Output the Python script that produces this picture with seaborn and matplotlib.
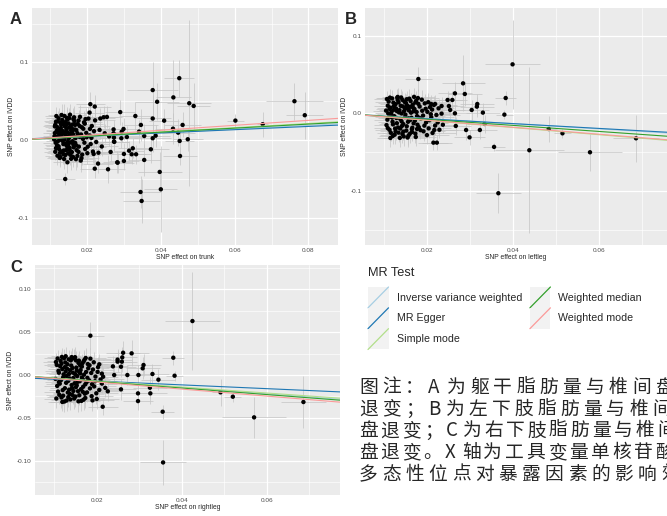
import numpy as np
import matplotlib
matplotlib.use('Agg')
import matplotlib.pyplot as plt
import seaborn as sns
from matplotlib.ticker import MultipleLocator, AutoMinorLocator, FormatStrFormatter
from matplotlib.legend_handler import HandlerBase
from matplotlib.patches import Rectangle
from matplotlib.lines import Line2D

sns.set_style("darkgrid", {"axes.facecolor": "#EBEBEB", "grid.color": "white"})
plt.rcParams['font.family'] = ['Liberation Sans', 'DejaVu Sans']
plt.rcParams['axes.unicode_minus'] = False

# MR methods
methods = ["Inverse variance weighted", "MR Egger", "Simple mode", "Weighted median", "Weighted mode"]
method_colors = ["#A6CEE3", "#1F78B4", "#B2DF8A", "#33A02C", "#FB9A99"]

# slope / intercept of each method line, per panel
trunk_slope = [0.24, 0.21, 0.27, 0.26, 0.32]
trunk_icpt = [0.0, 0.001, 0.0, 0.0, 0.0]
leftleg_slope = [-0.335, -0.31, -0.46, -0.39, -0.45]
leftleg_icpt = [0.0, -0.0009, 0.0, 0.0, 0.0]
rightleg_slope = [-0.365, -0.22, -0.35, -0.38, -0.41]
rightleg_icpt = [0.0, -0.0027, 0.0, 0.0, 0.0]

# SNPs: (beta exposure, beta outcome, x half-width, y half-width)
trunk_cluster = [
    (0.0112, 0.0052, 0.0032, 0.011), (0.0115, -0.0031, 0.0035, 0.010), (0.0118, 0.0124, 0.0030, 0.012),
    (0.0121, 0.0243, 0.0038, 0.013), (0.0113, 0.0178, 0.0031, 0.010), (0.0124, -0.0112, 0.0034, 0.012),
    (0.0127, 0.0015, 0.0036, 0.009), (0.0119, -0.0065, 0.0033, 0.011), (0.0130, 0.0201, 0.0040, 0.014),
    (0.0133, 0.0087, 0.0037, 0.010), (0.0136, -0.0178, 0.0035, 0.013), (0.0122, 0.0096, 0.0032, 0.011),
    (0.0139, 0.0312, 0.0041, 0.015), (0.0141, -0.0043, 0.0036, 0.010), (0.0144, 0.0145, 0.0039, 0.012),
    (0.0128, -0.0215, 0.0034, 0.012), (0.0147, 0.0268, 0.0042, 0.013), (0.0150, 0.0021, 0.0038, 0.011),
    (0.0116, 0.0239, 0.0030, 0.012), (0.0153, -0.0097, 0.0040, 0.012), (0.0156, 0.0189, 0.0043, 0.014),
    (0.0125, 0.0061, 0.0033, 0.009), (0.0159, -0.0152, 0.0041, 0.013), (0.0162, 0.0077, 0.0044, 0.011),
    (0.0134, -0.0008, 0.0035, 0.010), (0.0165, 0.0295, 0.0046, 0.015), (0.0168, -0.0034, 0.0042, 0.011),
    (0.0137, 0.0221, 0.0037, 0.012), (0.0171, 0.0132, 0.0045, 0.012), (0.0174, -0.0201, 0.0043, 0.014),
    (0.0143, -0.0129, 0.0036, 0.011), (0.0177, 0.0254, 0.0047, 0.014), (0.0180, 0.0043, 0.0044, 0.010),
    (0.0146, 0.0108, 0.0038, 0.010), (0.0183, -0.0261, 0.0046, 0.015), (0.0186, 0.0167, 0.0048, 0.013),
    (0.0149, -0.0058, 0.0039, 0.011), (0.0189, 0.0018, 0.0045, 0.011), (0.0192, 0.0231, 0.0049, 0.014),
    (0.0152, 0.0284, 0.0040, 0.013), (0.0195, -0.0113, 0.0046, 0.012), (0.0198, 0.0095, 0.0050, 0.012),
    (0.0155, -0.0187, 0.0041, 0.013), (0.0201, -0.0166, 0.0048, 0.014), (0.0204, 0.0279, 0.0051, 0.015),
    (0.0158, 0.0056, 0.0040, 0.010), (0.0207, 0.0062, 0.0049, 0.012), (0.0210, -0.0049, 0.0052, 0.013),
    (0.0161, 0.0203, 0.0042, 0.012), (0.0213, 0.0184, 0.0050, 0.014), (0.0216, -0.0145, 0.0053, 0.015),
    (0.0164, -0.0091, 0.0043, 0.012), (0.0219, 0.0117, 0.0051, 0.013), (0.0222, 0.0256, 0.0054, 0.016),
    (0.0167, 0.0139, 0.0044, 0.011), (0.0225, -0.0022, 0.0052, 0.012), (0.0114, -0.0148, 0.0031, 0.011),
    (0.0117, 0.0311, 0.0032, 0.012), (0.0120, -0.0198, 0.0033, 0.012), (0.0123, 0.0283, 0.0034, 0.013),
    (0.0126, -0.0227, 0.0035, 0.012), (0.0129, 0.0158, 0.0036, 0.010), (0.0132, -0.0143, 0.0037, 0.011),
    (0.0135, 0.0036, 0.0036, 0.010), (0.0138, -0.0241, 0.0038, 0.013), (0.0140, 0.0102, 0.0037, 0.011),
    (0.0142, 0.0236, 0.0039, 0.012), (0.0145, -0.0072, 0.0040, 0.011), (0.0148, -0.0019, 0.0038, 0.010),
    (0.0151, 0.0163, 0.0041, 0.012), (0.0154, 0.0329, 0.0042, 0.014), (0.0157, -0.0238, 0.0043, 0.014),
    (0.0160, 0.0112, 0.0041, 0.011), (0.0163, -0.0054, 0.0044, 0.012), (0.0166, 0.0247, 0.0045, 0.013),
    (0.0169, 0.0029, 0.0043, 0.011), (0.0172, -0.0127, 0.0046, 0.012), (0.0175, 0.0211, 0.0047, 0.013),
    (0.0178, -0.0082, 0.0045, 0.012), (0.0181, 0.0301, 0.0048, 0.015), (0.0184, 0.0074, 0.0046, 0.011),
    (0.0187, -0.0184, 0.0049, 0.013), (0.0190, 0.0148, 0.0047, 0.012), (0.0193, -0.0031, 0.0050, 0.012),
    (0.0196, 0.0272, 0.0048, 0.014), (0.0199, 0.0039, 0.0051, 0.012), (0.0111, 0.0011, 0.0030, 0.009),
    (0.0113, 0.0093, 0.0031, 0.010), (0.0116, -0.0101, 0.0032, 0.011), (0.0119, 0.0171, 0.0033, 0.011),
    (0.0121, -0.0013, 0.0032, 0.010), (0.0124, 0.0132, 0.0034, 0.011), (0.0127, -0.0161, 0.0035, 0.012),
    (0.0130, 0.0066, 0.0034, 0.010), (0.0133, 0.0262, 0.0036, 0.013), (0.0136, -0.0049, 0.0037, 0.011),
    (0.0139, 0.0181, 0.0038, 0.012), (0.0141, -0.0191, 0.0037, 0.012), (0.0144, 0.0053, 0.0039, 0.010),
    (0.0147, -0.0116, 0.0040, 0.011), (0.0150, 0.0217, 0.0041, 0.012), (0.0153, 0.0084, 0.0040, 0.011),
    (0.0156, -0.0027, 0.0042, 0.010), (0.0159, 0.0152, 0.0043, 0.012), (0.0162, -0.0213, 0.0044, 0.013),
    (0.0165, 0.0048, 0.0042, 0.011), (0.0168, 0.0198, 0.0045, 0.013), (0.0171, -0.0067, 0.0044, 0.011),
    (0.0174, 0.0091, 0.0046, 0.012), (0.0177, -0.0149, 0.0045, 0.012), (0.0180, 0.0183, 0.0047, 0.013),
    (0.0118, 0.0045, 0.0031, 0.010), (0.0123, -0.0079, 0.0033, 0.011), (0.0128, 0.0228, 0.0035, 0.012),
    (0.0131, 0.0004, 0.0034, 0.010), (0.0134, 0.0119, 0.0036, 0.011), (0.0137, -0.0131, 0.0037, 0.012),
    (0.0142, 0.0073, 0.0038, 0.010), (0.0146, 0.0287, 0.0040, 0.014), (0.0149, -0.0168, 0.0039, 0.012),
    (0.0152, 0.0041, 0.0041, 0.011), (0.0157, 0.0126, 0.0042, 0.011), (0.0161, -0.0012, 0.0043, 0.011),
    (0.0114, 0.0198, 0.0031, 0.011), (0.0147, -0.0283, 0.0040, 0.014), (0.0170, -0.0243, 0.0045, 0.014),
    (0.0131, 0.0325, 0.0036, 0.014), (0.0126, 0.0113, 0.0034, 0.010), (0.0139, 0.0009, 0.0037, 0.010),
    (0.0143, 0.0196, 0.0038, 0.012), (0.0155, -0.0139, 0.0041, 0.012), (0.0163, 0.0272, 0.0044, 0.014),
    (0.0176, 0.0057, 0.0046, 0.012), (0.0185, -0.0229, 0.0048, 0.014), (0.0194, 0.0213, 0.0049, 0.014),
    (0.0202, -0.0083, 0.0050, 0.013), (0.0208, 0.0146, 0.0052, 0.014), (0.0212, 0.0031, 0.0051, 0.013),
    (0.0218, -0.0176, 0.0053, 0.014),
]
trunk_outer = [
    (0.0450, 0.0798, 0.0041, 0.0236), (0.0477, 0.0476, 0.0059, 0.107), (0.0489, 0.0441, 0.0045, 0.030),
    (0.0378, 0.0645, 0.0069, 0.036), (0.0390, 0.0495, 0.0060, 0.024), (0.0434, 0.0551, 0.0047, 0.048),
    (0.0378, 0.0280, 0.0050, 0.030), (0.0409, 0.0252, 0.0040, 0.015), (0.0331, 0.0312, 0.0045, 0.018),
    (0.0290, 0.0362, 0.0040, 0.016), (0.0346, 0.0197, 0.0045, 0.020), (0.0341, 0.0111, 0.0040, 0.015),
    (0.0355, 0.0055, 0.0045, 0.015), (0.0378, 0.0026, 0.0050, 0.018), (0.0386, 0.0059, 0.0040, 0.014),
    (0.0433, 0.0149, 0.0050, 0.020), (0.0447, 0.0098, 0.0045, 0.017), (0.0459, 0.0197, 0.0050, 0.016),
    (0.0451, -0.0009, 0.0040, 0.016), (0.0473, 0.0013, 0.0040, 0.015), (0.0452, -0.0202, 0.0045, 0.012),
    (0.0373, -0.0116, 0.0050, 0.018), (0.0355, -0.0253, 0.0045, 0.020), (0.0397, -0.0407, 0.0060, 0.025),
    (0.0400, -0.0630, 0.0045, 0.055), (0.0345, -0.0665, 0.0055, 0.020), (0.0348, -0.0780, 0.0050, 0.028),
    (0.0300, -0.0176, 0.0040, 0.014), (0.0282, -0.0283, 0.0040, 0.014), (0.0300, -0.0266, 0.0040, 0.012),
    (0.0314, -0.0134, 0.0040, 0.012), (0.0324, -0.0103, 0.0040, 0.013), (0.0321, -0.0180, 0.0040, 0.012),
    (0.0333, -0.0180, 0.0040, 0.012), (0.0308, 0.0042, 0.0045, 0.014), (0.0293, 0.0026, 0.0045, 0.013),
    (0.0294, 0.0110, 0.0040, 0.013), (0.0299, 0.0145, 0.0045, 0.014), (0.0272, 0.0140, 0.0040, 0.012),
    (0.0272, 0.0090, 0.0040, 0.012), (0.0273, 0.0035, 0.0040, 0.012), (0.0274, -0.0020, 0.0040, 0.012),
    (0.0602, 0.0253, 0.0023, 0.0086), (0.0676, 0.0206, 0.0015, 0.016), (0.0762, 0.0502, 0.0077, 0.0236),
    (0.0790, 0.0322, 0.0050, 0.030), (0.0141, -0.0498, 0.0027, 0.008), (0.0209, 0.0464, 0.0040, 0.015),
    (0.0221, 0.0433, 0.0045, 0.015), (0.0207, 0.0356, 0.0040, 0.014), (0.0245, 0.0296, 0.0040, 0.014),
    (0.0254, 0.0300, 0.0040, 0.014), (0.0221, -0.0365, 0.0040, 0.012), (0.0230, -0.0300, 0.0040, 0.012),
    (0.0283, -0.0288, 0.0045, 0.013), (0.0257, -0.0373, 0.0045, 0.018), (0.0264, -0.0150, 0.0040, 0.012),
    (0.0273, -0.0017, 0.0040, 0.012), (0.0248, 0.0090, 0.0040, 0.012), (0.0234, 0.0133, 0.0040, 0.012),
    (0.0236, 0.0280, 0.0040, 0.014), (0.0240, -0.0080, 0.0045, 0.012), (0.0260, 0.0050, 0.0040, 0.012),
    (0.0231, -0.0160, 0.0040, 0.012),
]

leftleg_cluster = [
    (0.0104, 0.0035, 0.0030, 0.009), (0.0107, -0.0082, 0.0031, 0.010), (0.0110, 0.0151, 0.0032, 0.010),
    (0.0112, -0.0213, 0.0033, 0.011), (0.0114, 0.0073, 0.0031, 0.009), (0.0116, -0.0011, 0.0032, 0.009),
    (0.0118, 0.0192, 0.0034, 0.011), (0.0120, -0.0142, 0.0033, 0.010), (0.0122, 0.0046, 0.0035, 0.010),
    (0.0124, -0.0275, 0.0034, 0.012), (0.0126, 0.0118, 0.0036, 0.010), (0.0128, -0.0061, 0.0035, 0.009),
    (0.0130, 0.0201, 0.0037, 0.011), (0.0132, -0.0183, 0.0036, 0.011), (0.0134, 0.0012, 0.0038, 0.009),
    (0.0136, -0.0317, 0.0037, 0.012), (0.0138, 0.0097, 0.0039, 0.010), (0.0140, -0.0104, 0.0038, 0.010),
    (0.0142, 0.0173, 0.0040, 0.011), (0.0144, -0.0236, 0.0039, 0.011), (0.0146, 0.0029, 0.0041, 0.010),
    (0.0148, -0.0048, 0.0040, 0.010), (0.0150, 0.0134, 0.0042, 0.011), (0.0152, -0.0167, 0.0041, 0.011),
    (0.0154, 0.0061, 0.0043, 0.010), (0.0156, -0.0289, 0.0042, 0.012), (0.0158, 0.0189, 0.0044, 0.012),
    (0.0160, -0.0087, 0.0043, 0.010), (0.0162, 0.0008, 0.0045, 0.010), (0.0164, -0.0205, 0.0044, 0.011),
    (0.0166, 0.0112, 0.0046, 0.011), (0.0168, -0.0129, 0.0045, 0.011), (0.0170, 0.0054, 0.0047, 0.010),
    (0.0172, -0.0261, 0.0046, 0.012), (0.0174, 0.0163, 0.0048, 0.012), (0.0176, -0.0036, 0.0047, 0.010),
    (0.0178, 0.0197, 0.0049, 0.012), (0.0180, -0.0178, 0.0048, 0.011), (0.0182, 0.0087, 0.0050, 0.011),
    (0.0185, -0.0071, 0.0049, 0.010), (0.0188, 0.0033, 0.0051, 0.011), (0.0191, -0.0232, 0.0050, 0.012),
    (0.0194, 0.0128, 0.0052, 0.012), (0.0197, -0.0119, 0.0051, 0.011), (0.0200, 0.0019, 0.0053, 0.011),
    (0.0203, -0.0194, 0.0052, 0.012), (0.0206, 0.0079, 0.0054, 0.012), (0.0209, -0.0052, 0.0053, 0.011),
    (0.0212, -0.0253, 0.0055, 0.012), (0.0215, 0.0107, 0.0054, 0.012), (0.0218, -0.0158, 0.0056, 0.012),
    (0.0221, -0.0021, 0.0055, 0.011), (0.0224, -0.0118, 0.0056, 0.012), (0.0105, -0.0152, 0.0030, 0.010),
    (0.0108, 0.0098, 0.0031, 0.009), (0.0111, -0.0043, 0.0032, 0.009), (0.0113, 0.0202, 0.0033, 0.011),
    (0.0115, -0.0251, 0.0032, 0.011), (0.0117, 0.0024, 0.0033, 0.009), (0.0119, -0.0109, 0.0034, 0.010),
    (0.0121, 0.0137, 0.0035, 0.010), (0.0123, -0.0037, 0.0034, 0.009), (0.0125, -0.0196, 0.0036, 0.011),
    (0.0127, 0.0063, 0.0035, 0.010), (0.0129, -0.0128, 0.0037, 0.010), (0.0131, 0.0171, 0.0036, 0.011),
    (0.0133, -0.0249, 0.0038, 0.012), (0.0135, 0.0041, 0.0037, 0.010), (0.0137, -0.0073, 0.0039, 0.010),
    (0.0139, 0.0204, 0.0038, 0.011), (0.0141, -0.0162, 0.0040, 0.011), (0.0143, 0.0089, 0.0039, 0.010),
    (0.0145, -0.0298, 0.0041, 0.012), (0.0147, 0.0148, 0.0040, 0.011), (0.0149, -0.0017, 0.0042, 0.010),
    (0.0151, -0.0223, 0.0041, 0.011), (0.0153, 0.0102, 0.0043, 0.011), (0.0155, -0.0109, 0.0042, 0.010),
    (0.0157, 0.0037, 0.0044, 0.010), (0.0159, -0.0265, 0.0043, 0.012), (0.0161, 0.0158, 0.0045, 0.011),
    (0.0163, -0.0057, 0.0044, 0.010), (0.0165, -0.0186, 0.0046, 0.011), (0.0167, 0.0071, 0.0045, 0.010),
    (0.0169, 0.0212, 0.0047, 0.012), (0.0171, -0.0094, 0.0046, 0.010), (0.0173, -0.0305, 0.0048, 0.012),
    (0.0175, 0.0016, 0.0047, 0.010), (0.0177, -0.0147, 0.0049, 0.011), (0.0179, 0.0122, 0.0048, 0.011),
    (0.0184, -0.0217, 0.0050, 0.012), (0.0187, 0.0176, 0.0049, 0.012), (0.0190, -0.0029, 0.0051, 0.011),
    (0.0193, -0.0159, 0.0050, 0.011), (0.0196, 0.0059, 0.0052, 0.011), (0.0199, -0.0281, 0.0051, 0.012),
    (0.0202, 0.0143, 0.0053, 0.012), (0.0205, -0.0089, 0.0052, 0.011), (0.0208, -0.0012, 0.0054, 0.011),
    (0.0211, 0.0048, 0.0053, 0.012), (0.0216, -0.0215, 0.0055, 0.012), (0.0106, 0.0184, 0.0030, 0.010),
    (0.0109, -0.0001, 0.0031, 0.009), (0.0112, 0.0057, 0.0032, 0.009), (0.0118, -0.0055, 0.0033, 0.009),
    (0.0122, 0.0091, 0.0034, 0.010), (0.0126, -0.0234, 0.0035, 0.011), (0.0129, 0.0029, 0.0036, 0.009),
    (0.0133, 0.0141, 0.0037, 0.010), (0.0137, -0.0196, 0.0038, 0.011), (0.0140, -0.0002, 0.0039, 0.010),
    (0.0144, -0.0139, 0.0040, 0.010), (0.0148, 0.0068, 0.0041, 0.010), (0.0152, 0.0181, 0.0042, 0.011),
    (0.0156, -0.0063, 0.0043, 0.010), (0.0160, 0.0084, 0.0044, 0.010), (0.0164, -0.0241, 0.0045, 0.011),
    (0.0168, 0.0026, 0.0046, 0.010), (0.0172, 0.0139, 0.0047, 0.011), (0.0176, -0.0203, 0.0048, 0.011),
    (0.0181, -0.0058, 0.0049, 0.011), (0.0114, -0.0318, 0.0032, 0.011), (0.0120, -0.0291, 0.0033, 0.011),
    (0.0131, 0.0211, 0.0036, 0.011), (0.0142, -0.0268, 0.0039, 0.012), (0.0154, -0.0312, 0.0042, 0.012),
    (0.0108, -0.0191, 0.0031, 0.010),
]
leftleg_outer = [
    (0.0398, 0.0631, 0.0064, 0.057), (0.0365, -0.1030, 0.0053, 0.026), (0.0437, -0.0476, 0.0080, 0.107),
    (0.0355, -0.0433, 0.0026, 0.005), (0.0482, -0.0202, 0.0020, 0.017), (0.0514, -0.0258, 0.0020, 0.006),
    (0.0578, -0.0502, 0.0074, 0.0236), (0.0685, -0.0322, 0.0053, 0.030), (0.0382, 0.0197, 0.0025, 0.009),
    (0.0379, -0.0017, 0.0020, 0.006), (0.0283, 0.0386, 0.0050, 0.036), (0.0287, 0.0249, 0.0040, 0.015),
    (0.0264, 0.0257, 0.0040, 0.014), (0.0258, 0.0172, 0.0035, 0.012), (0.0247, 0.0172, 0.0035, 0.012),
    (0.0250, 0.0094, 0.0035, 0.012), (0.0253, 0.0043, 0.0035, 0.012), (0.0264, 0.0000, 0.0035, 0.012),
    (0.0266, -0.0163, 0.0035, 0.012), (0.0290, -0.0215, 0.0040, 0.013), (0.0298, -0.0310, 0.0035, 0.010),
    (0.0303, 0.0043, 0.0040, 0.013), (0.0315, 0.0086, 0.0040, 0.013), (0.0316, 0.0120, 0.0040, 0.013),
    (0.0329, 0.0009, 0.0040, 0.012), (0.0333, -0.0137, 0.0040, 0.012), (0.0322, -0.0215, 0.0040, 0.012),
    (0.0233, 0.0094, 0.0035, 0.012), (0.0226, 0.0064, 0.0035, 0.012), (0.0179, 0.0442, 0.0031, 0.016),
    (0.0209, 0.0120, 0.0035, 0.012), (0.0218, 0.0120, 0.0035, 0.012), (0.0214, -0.0378, 0.0035, 0.010),
    (0.0222, -0.0378, 0.0035, 0.010), (0.0236, -0.0147, 0.0035, 0.011), (0.0228, -0.0212, 0.0035, 0.011),
    (0.0233, -0.0004, 0.0035, 0.011),
]

rightleg_cluster = [
    (0.0103, -0.0045, 0.0030, 0.009), (0.0106, 0.0118, 0.0031, 0.010), (0.0109, -0.0193, 0.0032, 0.011),
    (0.0111, 0.0027, 0.0031, 0.009), (0.0113, -0.0101, 0.0032, 0.010), (0.0115, 0.0164, 0.0033, 0.011),
    (0.0117, -0.0262, 0.0034, 0.012), (0.0119, 0.0069, 0.0033, 0.009), (0.0121, -0.0028, 0.0034, 0.009),
    (0.0123, 0.0195, 0.0035, 0.011), (0.0125, -0.0154, 0.0036, 0.010), (0.0127, 0.0041, 0.0035, 0.010),
    (0.0129, -0.0297, 0.0037, 0.012), (0.0131, 0.0126, 0.0036, 0.010), (0.0133, -0.0068, 0.0038, 0.010),
    (0.0135, 0.0013, 0.0037, 0.009), (0.0137, -0.0221, 0.0039, 0.011), (0.0139, 0.0171, 0.0038, 0.011),
    (0.0141, -0.0117, 0.0040, 0.010), (0.0143, 0.0082, 0.0039, 0.010), (0.0145, -0.0034, 0.0041, 0.010),
    (0.0147, -0.0274, 0.0040, 0.012), (0.0149, 0.0208, 0.0042, 0.012), (0.0151, -0.0142, 0.0041, 0.011),
    (0.0153, 0.0053, 0.0043, 0.010), (0.0155, -0.0079, 0.0042, 0.010), (0.0157, 0.0141, 0.0044, 0.011),
    (0.0159, -0.0236, 0.0043, 0.011), (0.0161, 0.0019, 0.0045, 0.010), (0.0163, -0.0165, 0.0044, 0.011),
    (0.0165, 0.0099, 0.0046, 0.011), (0.0167, -0.0047, 0.0045, 0.010), (0.0169, -0.0288, 0.0047, 0.012),
    (0.0171, 0.0176, 0.0046, 0.012), (0.0173, -0.0109, 0.0048, 0.011), (0.0175, 0.0036, 0.0047, 0.010),
    (0.0177, -0.0203, 0.0049, 0.011), (0.0179, 0.0128, 0.0048, 0.011), (0.0182, -0.0062, 0.0050, 0.011),
    (0.0185, 0.0191, 0.0049, 0.012), (0.0188, -0.0247, 0.0051, 0.012), (0.0191, 0.0064, 0.0050, 0.011),
    (0.0194, -0.0133, 0.0052, 0.011), (0.0197, -0.0018, 0.0051, 0.011), (0.0200, -0.0279, 0.0053, 0.012),
    (0.0203, 0.0092, 0.0052, 0.012), (0.0206, -0.0174, 0.0054, 0.012), (0.0104, 0.0152, 0.0030, 0.010),
    (0.0107, -0.0127, 0.0031, 0.010), (0.0110, 0.0049, 0.0032, 0.009), (0.0112, -0.0231, 0.0031, 0.011),
    (0.0114, 0.0103, 0.0032, 0.010), (0.0116, -0.0059, 0.0033, 0.009), (0.0118, 0.0211, 0.0034, 0.011),
    (0.0120, -0.0176, 0.0033, 0.010), (0.0122, 0.0008, 0.0034, 0.009), (0.0124, -0.0309, 0.0035, 0.012),
    (0.0126, 0.0147, 0.0036, 0.011), (0.0128, -0.0091, 0.0035, 0.010), (0.0130, 0.0075, 0.0037, 0.010),
    (0.0132, -0.0204, 0.0036, 0.011), (0.0134, 0.0183, 0.0038, 0.011), (0.0136, -0.0039, 0.0037, 0.010),
    (0.0138, -0.0285, 0.0039, 0.012), (0.0140, 0.0111, 0.0038, 0.010), (0.0142, -0.0153, 0.0040, 0.011),
    (0.0144, 0.0028, 0.0039, 0.010), (0.0146, 0.0195, 0.0041, 0.011), (0.0148, -0.0096, 0.0040, 0.010),
    (0.0150, -0.0251, 0.0042, 0.012), (0.0152, 0.0087, 0.0041, 0.010), (0.0154, -0.0013, 0.0043, 0.010),
    (0.0156, -0.0189, 0.0042, 0.011), (0.0158, 0.0168, 0.0044, 0.011), (0.0160, -0.0072, 0.0043, 0.010),
    (0.0162, 0.0058, 0.0045, 0.010), (0.0164, -0.0302, 0.0044, 0.012), (0.0166, 0.0137, 0.0046, 0.011),
    (0.0168, -0.0137, 0.0045, 0.011), (0.0170, 0.0004, 0.0047, 0.010), (0.0172, -0.0218, 0.0046, 0.011),
    (0.0174, 0.0199, 0.0048, 0.012), (0.0176, -0.0084, 0.0047, 0.010), (0.0180, 0.0079, 0.0049, 0.011),
    (0.0184, -0.0156, 0.0050, 0.011), (0.0187, 0.0024, 0.0049, 0.011), (0.0190, -0.0296, 0.0051, 0.012),
    (0.0193, 0.0149, 0.0050, 0.012), (0.0196, -0.0072, 0.0052, 0.011), (0.0199, -0.0213, 0.0051, 0.012),
    (0.0202, 0.0037, 0.0053, 0.011), (0.0105, -0.0274, 0.0030, 0.011), (0.0108, 0.0193, 0.0031, 0.010),
    (0.0111, -0.0082, 0.0032, 0.009), (0.0117, 0.0132, 0.0033, 0.010), (0.0121, -0.0241, 0.0034, 0.011),
    (0.0125, 0.0092, 0.0035, 0.010), (0.0129, -0.0012, 0.0036, 0.009), (0.0133, -0.0258, 0.0037, 0.011),
    (0.0137, 0.0056, 0.0038, 0.010), (0.0141, 0.0209, 0.0039, 0.011), (0.0145, -0.0186, 0.0040, 0.011),
    (0.0149, 0.0012, 0.0041, 0.010), (0.0153, -0.0121, 0.0042, 0.010), (0.0157, -0.0307, 0.0043, 0.012),
    (0.0161, 0.0112, 0.0044, 0.011), (0.0165, -0.0029, 0.0045, 0.010), (0.0169, 0.0157, 0.0046, 0.011),
    (0.0173, -0.0268, 0.0047, 0.012), (0.0178, -0.0033, 0.0048, 0.011), (0.0183, 0.0114, 0.0049, 0.011),
    (0.0119, -0.0314, 0.0033, 0.011), (0.0127, 0.0219, 0.0035, 0.011), (0.0135, -0.0171, 0.0037, 0.010),
    (0.0143, -0.0233, 0.0039, 0.011), (0.0151, 0.0171, 0.0041, 0.011), (0.0159, 0.0033, 0.0043, 0.010),
    (0.0167, -0.0195, 0.0045, 0.011), (0.0189, -0.0107, 0.0050, 0.011), (0.0209, -0.0052, 0.0054, 0.012),
    (0.0212, 0.0016, 0.0054, 0.012),
]
rightleg_outer = [
    (0.0425, 0.0630, 0.0065, 0.057), (0.0356, -0.1020, 0.0055, 0.026), (0.0355, -0.0428, 0.0027, 0.008),
    (0.0491, -0.0202, 0.0020, 0.016), (0.0520, -0.0253, 0.0020, 0.006), (0.0570, -0.0494, 0.0075, 0.024),
    (0.0686, -0.0315, 0.0053, 0.030), (0.0380, 0.0202, 0.0026, 0.008), (0.0383, -0.0008, 0.0020, 0.006),
    (0.0185, 0.0459, 0.0031, 0.0156), (0.0282, 0.0253, 0.0040, 0.015), (0.0262, 0.0260, 0.0040, 0.014),
    (0.0260, 0.0206, 0.0035, 0.012), (0.0249, 0.0180, 0.0035, 0.012), (0.0259, 0.0156, 0.0035, 0.012),
    (0.0249, 0.0156, 0.0035, 0.012), (0.0257, 0.0097, 0.0035, 0.012), (0.0238, 0.0101, 0.0035, 0.012),
    (0.0272, 0.0000, 0.0035, 0.012), (0.0298, 0.0000, 0.0035, 0.012), (0.0310, 0.0117, 0.0040, 0.013),
    (0.0308, 0.0078, 0.0040, 0.013), (0.0331, 0.0012, 0.0040, 0.012), (0.0345, -0.0054, 0.0040, 0.012),
    (0.0325, -0.0148, 0.0040, 0.012), (0.0326, -0.0214, 0.0040, 0.012), (0.0297, -0.0214, 0.0040, 0.013),
    (0.0297, -0.0304, 0.0035, 0.010), (0.0257, -0.0167, 0.0035, 0.012), (0.0214, -0.0370, 0.0035, 0.010),
    (0.0206, 0.0125, 0.0035, 0.012), (0.0215, -0.0020, 0.0035, 0.011), (0.0212, -0.0100, 0.0035, 0.011),
    (0.0220, -0.0150, 0.0035, 0.011), (0.0226, -0.0190, 0.0035, 0.011), (0.0241, 0.0000, 0.0035, 0.011),
]

caption_lines = [
    "图注：A 为躯干脂肪量与椎间盘",
    "退变；B 为左下肢脂肪量与椎间",
    "盘退变；C 为右下肢脂肪量与椎间",
    "盘退变。X 轴为工具变量单核苷酸",
    "多态性位点对暴露因素的影响效",
]

W, H = 667, 516
fig = plt.figure(figsize=(W / 100, H / 100), dpi=100)
fig.patch.set_facecolor('white')


def px_rect(left, top, right, bottom):
    return [left / W, 1 - bottom / H, (right - left) / W, (bottom - top) / H]


panels = [
    dict(rect=px_rect(32, 8, 338, 245), pts=trunk_cluster + trunk_outer, slope=trunk_slope, icpt=trunk_icpt,
         xlim=(0.0051, 0.088), ylim=(-0.1346, 0.170), ystep=0.1, yfmt='%.1f', xlab='SNP effect on trunk',
         letter='A', lpos=(16, 19)),
    dict(rect=px_rect(365, 8, 667, 245), pts=leftleg_cluster + leftleg_outer, slope=leftleg_slope, icpt=leftleg_icpt,
         xlim=(0.0055, 0.0757), ylim=(-0.1697, 0.1357), ystep=0.1, yfmt='%.1f', xlab='SNP effect on leftleg',
         letter='B', lpos=(351, 20)),
    dict(rect=px_rect(35, 265, 340, 495), pts=rightleg_cluster + rightleg_outer, slope=rightleg_slope, icpt=rightleg_icpt,
         xlim=(0.00548, 0.0772), ylim=(-0.140, 0.1284), ystep=0.05, yfmt='%.2f', xlab='SNP effect on rightleg',
         letter='C', lpos=(16, 267)),
]

for p in panels:
    ax = fig.add_axes(p['rect'])
    bx, by, sx, sy = map(np.array, zip(*p['pts']))
    ax.errorbar(bx, by, xerr=sx, yerr=sy, fmt='none', ecolor='#C4C4C4', elinewidth=0.5, capsize=0, zorder=2)
    sns.scatterplot(x=bx, y=by, ax=ax, color='black', s=10, edgecolor='none', linewidth=0, zorder=3)
    for m, b, c in zip(p['slope'], p['icpt'], method_colors):
        ax.axline((0, b), slope=m, color=c, lw=0.8, zorder=4)
    ax.set_xlim(*p['xlim'])
    ax.set_ylim(*p['ylim'])
    ax.xaxis.set_major_locator(MultipleLocator(0.02))
    ax.yaxis.set_major_locator(MultipleLocator(p['ystep']))
    ax.xaxis.set_minor_locator(AutoMinorLocator(2))
    ax.yaxis.set_minor_locator(AutoMinorLocator(2))
    ax.xaxis.set_major_formatter(FormatStrFormatter('%.2f'))
    ax.yaxis.set_major_formatter(FormatStrFormatter(p['yfmt']))
    ax.grid(which='major', color='white', lw=0.9)
    ax.grid(which='minor', color='white', lw=0.45)
    ax.set_axisbelow(True)
    for s in ax.spines.values():
        s.set_visible(False)
    ax.tick_params(which='major', length=1.6, width=0.5, color='#333333', labelsize=4.6,
                   labelcolor='#4D4D4D', pad=0.8)
    ax.tick_params(which='minor', length=0)
    ax.set_xlabel(p['xlab'], fontsize=4.9, labelpad=0.5)
    ax.set_ylabel('SNP effect on IVDD', fontsize=4.9, labelpad=2)
    fig.text(p['lpos'][0] / W, 1 - p['lpos'][1] / H, p['letter'], fontsize=12, fontweight='bold',
             ha='center', va='center')


# legend with diagonal keys on grey95 squares
class DiagonalKey(HandlerBase):
    def create_artists(self, legend, orig_handle, xdescent, ydescent, width, height, fontsize, trans):
        bg = Rectangle((-xdescent, -ydescent), width, height, facecolor='#F2F2F2', edgecolor='none',
                       transform=trans)
        ln = Line2D([-xdescent, -xdescent + width], [-ydescent, -ydescent + height],
                    color=orig_handle.get_color(), lw=0.9, transform=trans)
        return [bg, ln]


handles = [Line2D([], [], color=c) for c in method_colors]
fs = 7.7
fs_px = fs * 100 / 72
fig.legend(handles, methods, handler_map={Line2D: DiagonalKey()}, loc='upper left',
           bbox_to_anchor=(368 / W, 1 - 287 / H), ncol=2, frameon=False, fontsize=fs,
           borderpad=0, borderaxespad=0, labelspacing=0, handlelength=20.5 / fs_px,
           handleheight=2.62, handletextpad=0.75, columnspacing=0.75)
fig.text(368 / W, 1 - 273 / H, 'MR Test', fontsize=9.2, ha='left', va='center')

# caption, justified lines: last visible character lands at the right edge
cap_font = ['Noto Sans CJK SC', 'DejaVu Sans']
x0 = 359
last_x = [655, 652, 657, 655, 661]
for i, line in enumerate(caption_lines):
    weights = [0.3 if ch == ' ' else (0.5 if ch.isascii() else 1.0) for ch in line]
    pitch = (last_x[i] - x0) / sum(weights[:-1])
    x = x0
    base = 393 + 21.7 * i
    for ch, w in zip(line, weights):
        if ch != ' ':
            fig.text(x / W, 1 - base / H, ch, family=cap_font, fontsize=13.5, ha='left', va='baseline',
                     color='#262626')
        x += w * pitch

fig.savefig('out.png', dpi=100)
